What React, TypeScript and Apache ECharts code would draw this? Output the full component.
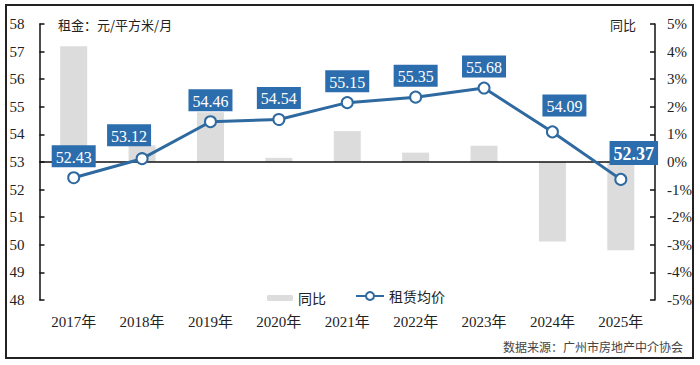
import React, { useEffect, useRef } from "react";
import * as echarts from "echarts";

const years = ["2017年", "2018年", "2019年", "2020年", "2021年", "2022年", "2023年", "2024年", "2025年"];
const rentValues = [52.43, 53.12, 54.46, 54.54, 55.15, 55.35, 55.68, 54.09, 52.37];
const yoyValues = [4.19, 0.6, 1.8, 0.15, 1.12, 0.34, 0.59, -2.88, -3.2];
const leftAxisRange = [48, 58];
const rightAxisRange = [-5, 5];
const unitText = "租金：元/平方米/月";
const rightUnitText = "同比";
const sourceText = "数据来源：广州市房地产中介协会";
const barName = "同比";
const lineName = "租赁均价";

const SERIF = "'Liberation Serif', 'Times New Roman', 'Noto Sans CJK SC', serif";
const CJK = "'Noto Sans CJK SC', sans-serif";
const BLUE = "#2c6dad";
const LINE = "#2e69a0";

export default function App() {
  const ref = useRef<HTMLDivElement>(null);
  useEffect(() => {
    if (!ref.current) return;
    const chart = echarts.init(ref.current, null, { renderer: "svg" });
    const labelOffsets: Record<number, number[]> = { 1: [-13, -2], 7: [12, -5], 8: [13, -4] };
    const lineData = rentValues.map((v, i) => {
      const item: any = { value: v };
      if (labelOffsets[i]) item.label = { offset: labelOffsets[i] };
      if (i === rentValues.length - 1) {
        item.label.fontWeight = "bold";
        item.label.fontSize = 18;
        item.label.lineHeight = 20;
      }
      return item;
    });
    chart.setOption({
      animation: false,
      backgroundColor: "#ffffff",
      grid: { left: 39.5, right: 45, top: 24, bottom: 65 },
      legend: [
        {
          data: [barName],
          left: 262,
          top: 286,
          itemWidth: 26,
          itemHeight: 6,
          textStyle: { fontFamily: CJK, fontSize: 14, color: "#222" },
        },
        {
          data: [lineName],
          left: 350,
          top: 284,
          itemWidth: 28,
          itemHeight: 10,
          textStyle: { fontFamily: CJK, fontSize: 14, color: "#222" },
        },
      ],
      xAxis: {
        type: "category",
        data: years,
        axisLine: { show: false },
        axisTick: { show: false },
        axisLabel: { margin: 14, fontSize: 15, fontFamily: SERIF, color: "#222" },
      },
      yAxis: [
        {
          type: "value",
          min: leftAxisRange[0],
          max: leftAxisRange[1],
          interval: 1,
          position: "left",
          splitLine: { show: false },
          axisLine: { show: true, lineStyle: { color: "#111", width: 1.5 } },
          axisTick: { show: true, inside: true, length: 5, lineStyle: { color: "#111", width: 1.5 } },
          axisLabel: { margin: 15, fontSize: 15, fontFamily: SERIF, color: "#222" },
        },
        {
          type: "value",
          min: rightAxisRange[0],
          max: rightAxisRange[1],
          interval: 1,
          position: "right",
          splitLine: { show: false },
          axisLine: { show: true, lineStyle: { color: "#111", width: 1.5 } },
          axisTick: { show: true, inside: true, length: 5, lineStyle: { color: "#111", width: 1.5 } },
          axisLabel: { margin: 12, fontSize: 15, fontFamily: SERIF, color: "#222", formatter: "{value}%" },
        },
      ],
      series: [
        {
          name: barName,
          type: "bar",
          yAxisIndex: 1,
          data: yoyValues,
          barWidth: 27,
          z: 1,
          itemStyle: { color: "#dcdcdc" },
          markLine: {
            silent: true,
            z: 2,
            symbol: ["none", "none"],
            label: { show: false },
            lineStyle: { color: "#111", width: 1.5, type: "solid" },
            data: [{ yAxis: 0 }],
          },
        },
        {
          name: lineName,
          type: "line",
          yAxisIndex: 0,
          data: lineData,
          symbol: "circle",
          symbolSize: 11,
          lineStyle: { color: LINE, width: 3 },
          itemStyle: { color: "#ffffff", borderColor: LINE, borderWidth: 2 },
          label: {
            show: true,
            position: "top",
            distance: 4,
            backgroundColor: BLUE,
            color: "#ffffff",
            fontFamily: SERIF,
            fontSize: 16,
            lineHeight: 18,
            padding: [3, 4, 1, 4],
          },
          z: 6,
        },
      ],
      graphic: [
        {
          type: "rect",
          shape: { x: 6, y: 5, width: 687, height: 353 },
          style: { fill: "none", stroke: "#222", lineWidth: 2 },
          silent: true,
        },
        {
          type: "text",
          x: 58,
          y: 24,
          style: { text: unitText, fill: "#222", font: `13px ${CJK}`, verticalAlign: "middle" },
        },
        {
          type: "text",
          x: 610,
          y: 24,
          style: { text: rightUnitText, fill: "#222", font: `13px ${CJK}`, verticalAlign: "middle" },
        },
        {
          type: "text",
          x: 683,
          y: 346,
          style: { text: sourceText, fill: "#444", font: `12px ${CJK}`, align: "right", verticalAlign: "middle" },
        },
      ],
    });
    return () => chart.dispose();
  }, []);
  return <div ref={ref} style={{ position: "fixed", left: 0, top: 0, width: 700, height: 365 }} />;
}
